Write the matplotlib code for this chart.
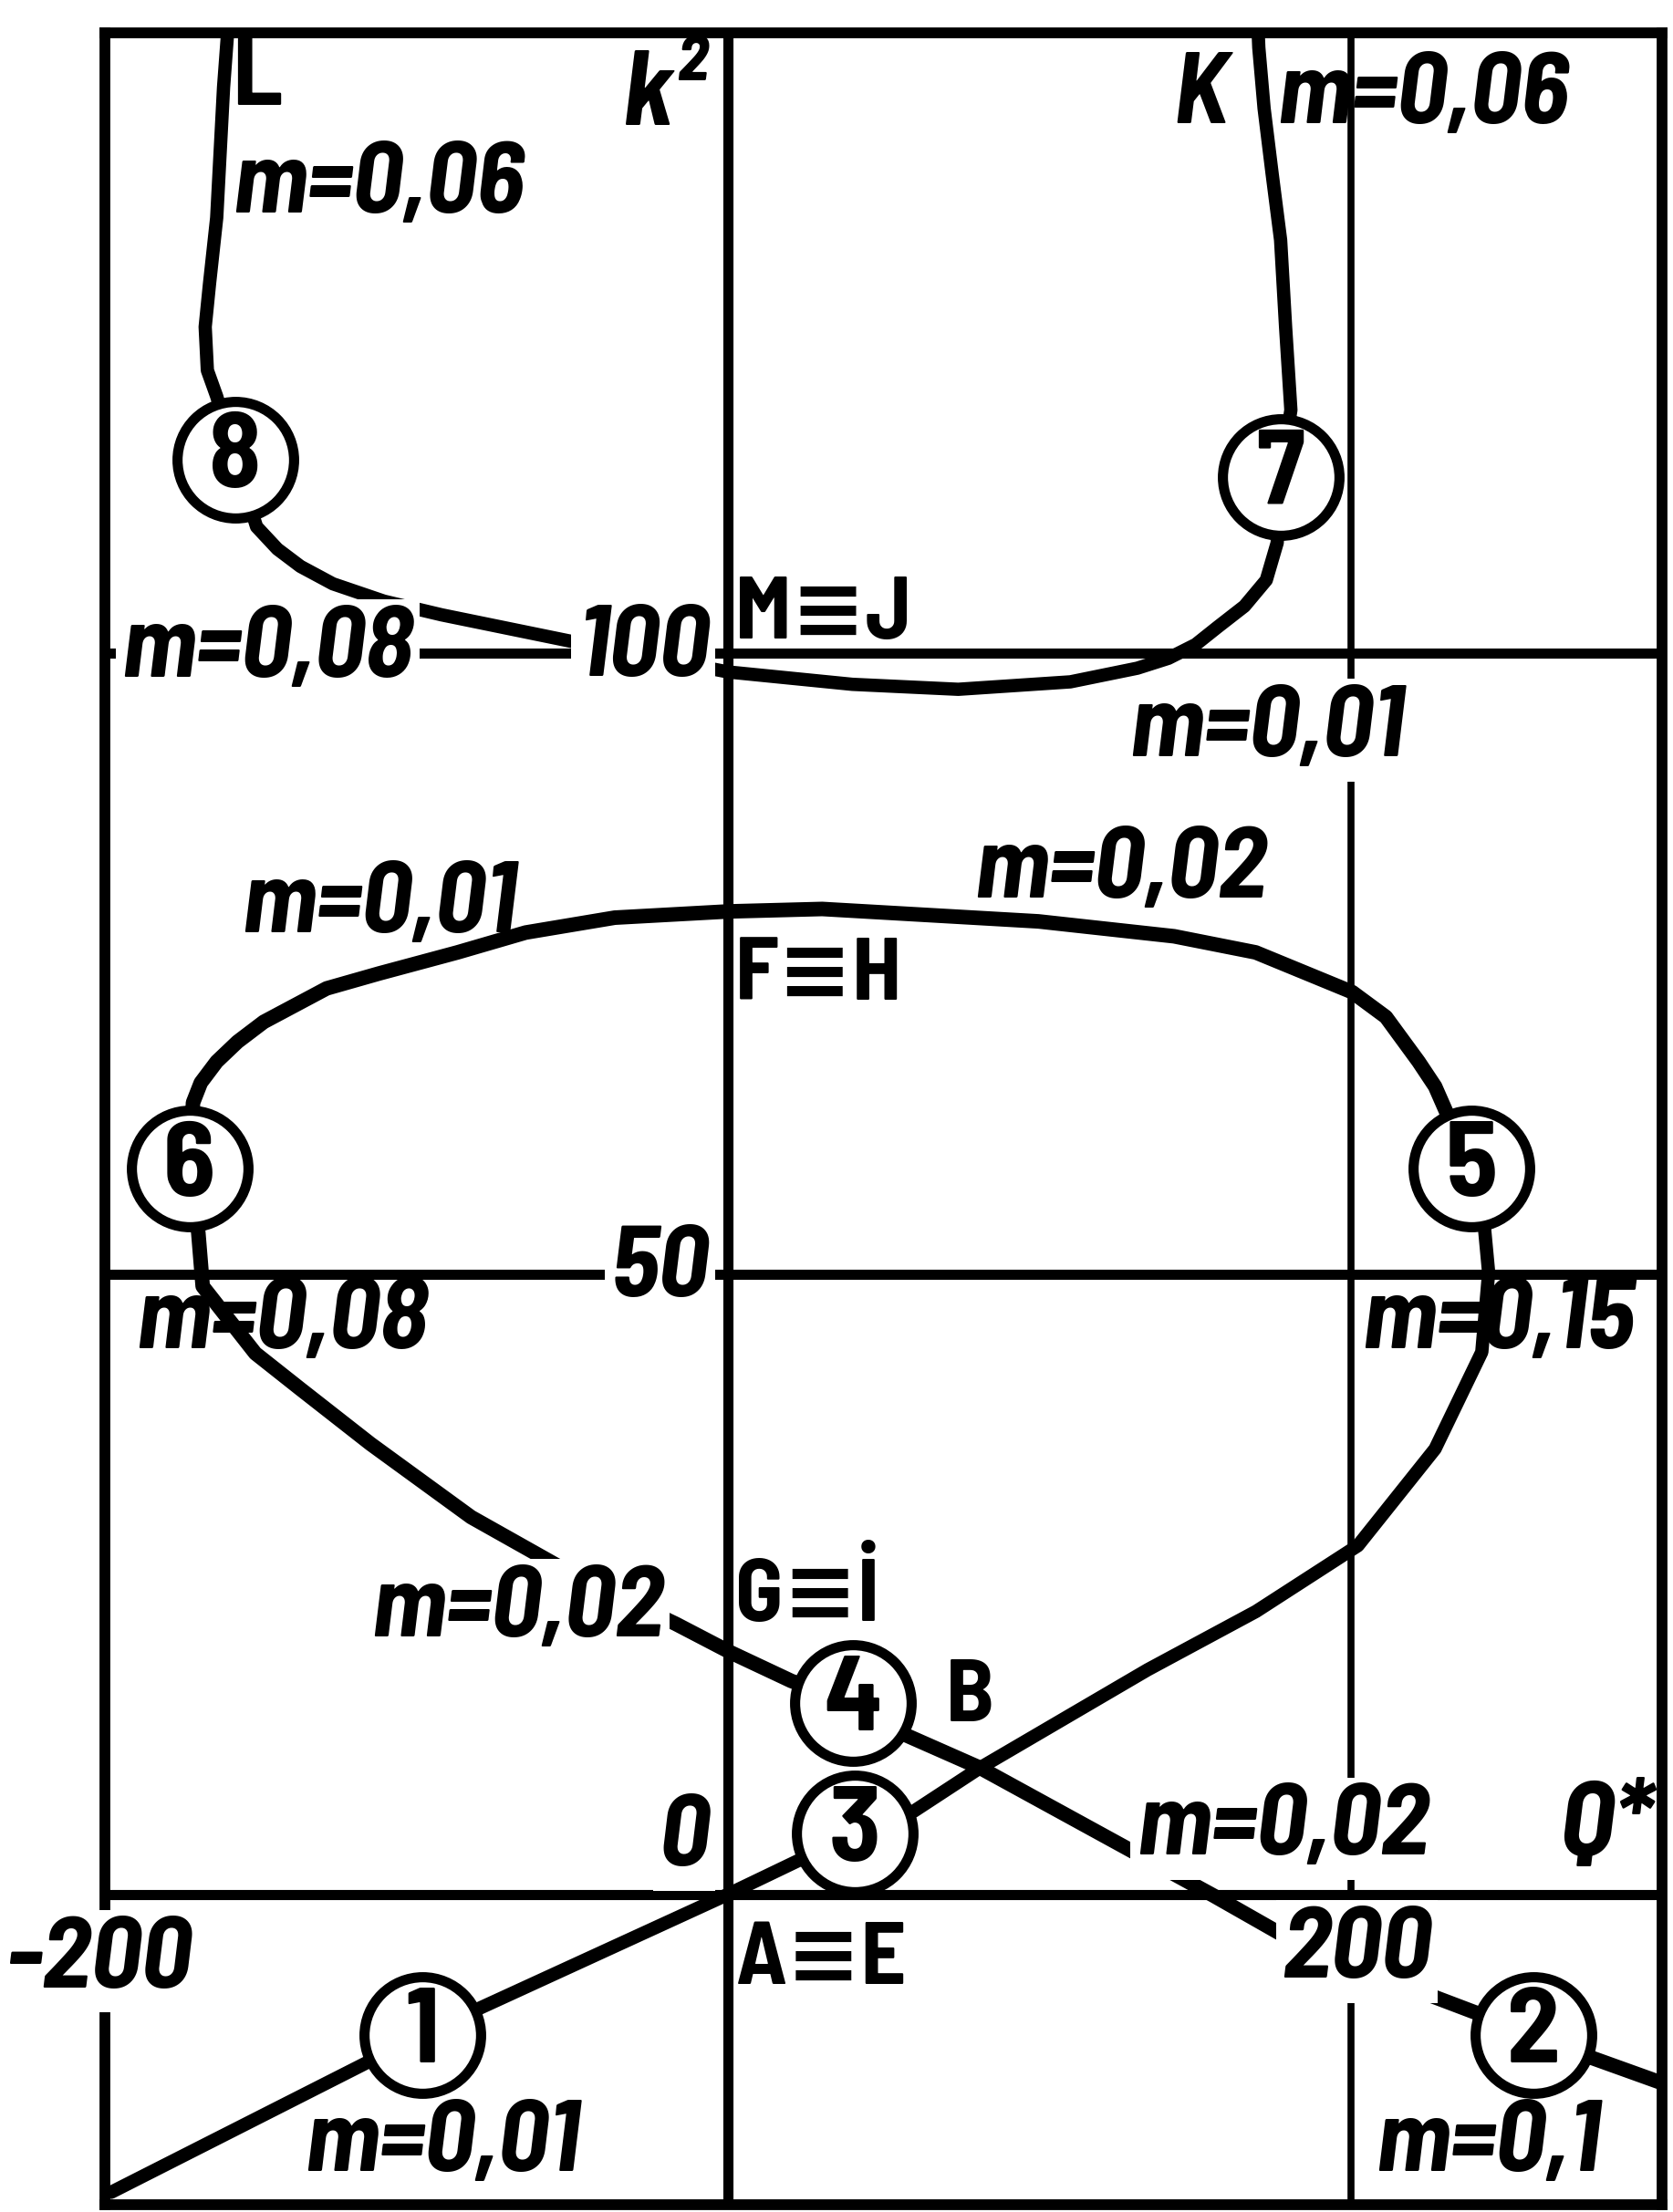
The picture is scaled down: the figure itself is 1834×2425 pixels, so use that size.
import matplotlib
matplotlib.use("Agg")
import matplotlib.pyplot as plt
from matplotlib import font_manager

# Q* along x, k^2 along y
# branch 1 -> A=E -> 3 -> B -> 5
branch_q = [-198, -98.2, 0, 40.7, 59.7, 81, 134.8, 169.6, 202.3, 227.1, 242.1, 244.3, 243, 238.9]
branch_k = [-24, -11.3, 0, 4.9, 6.7, 10.2, 18.1, 22.8, 28.1, 35.9, 43.7, 50.1, 53.6, 58.5]

# loop 5 -> F=H -> 6 -> G=I -> 4 -> B -> 2
loop_q = [238.9, 230.6, 227.1, 221.8, 211.3, 200.5, 169.5, 143.3, 99.7, 30.3, 0, -36.3,
          -64.9, -86.8, -112, -128.8, -149, -157.4, -164.1, -169.2, -171.7, -172.9,
          -170, -168.6, -151.7, -137.1, -114.7, -82.4, -48.4, -16.7,
          0.9, 20.4, 40.3, 56.6, 81, 131.2, 156, 177, 222, 258.8, 277.8, 300]
loop_k = [58.5, 63.1, 65.1, 67.1, 70.7, 72.7, 75.9, 77.2, 78.4, 79.4, 79.2, 78.7,
          77.5, 75.9, 74.2, 73.0, 70.3, 68.7, 67.1, 65.4, 63.8, 58.5,
          53.3, 49.0, 43.6, 40.7, 36.3, 30.4, 25.6, 21.8,
          19.5, 17.2, 15.4, 12.9, 10.2, 3.3, -0.1, -3.1, -7.8, -11.3, -13.2, -15.2]

# upper branch L -> 8 -> M=J -> 7 -> K
top_q = [-160.6, -161.9, -164.1, -166.4, -167.8, -167.1, -164.1, -158.1, -151.3, -144.6,
         -137.2, -126.8, -110.4, -91.9, -47.1, 0, 40, 74, 110, 131.5, 141.5, 150.2,
         157.2, 165.9, 172.9, 176.4, 177.4, 180.8, 179.1, 177.5, 174.8, 172.2, 170.5, 170.3]
top_k = [150, 145.6, 135.1, 129.8, 126.3, 122.8, 120.7, 115.6, 110.2, 108.4,
         107.0, 105.6, 104.2, 103.1, 100.8, 98.5, 97.5, 97.1, 97.7, 98.8, 99.6, 100.7,
         102.1, 103.8, 105.9, 108.9, 114.2, 119.6, 126.3, 133.3, 138.6, 143.9, 148.8, 150]

# numbered states
node_q = [-98.2, 258.8, 40.7, 40.3, 238.9, -172.9, 177.4, -158.1]
node_k = [-11.3, -11.3, 4.9, 15.4, 58.5, 58.5, 114.2, 115.6]
node_lbl = ["1", "2", "3", "4", "5", "6", "7", "8"]

# m values written along the traces: text, Q, k^2, masks what lies under it
m_labels = [
    ("m=0,06", -159, 137.6, False),
    ("m=0,06", 176.5, 144.8, False),
    ("m=0,08", -194.6, 100.2, True),
    ("m=0,01", 129, 93.8, True),
    ("m=0,02", 79.2, 82.4, False),
    ("m=0,01", -156.1, 79.6, False),
    ("m=0,08", -190, 46.1, False),
    ("m=0,15", 203.6, 46.1, False),
    ("m=0,02", -114.5, 22.9, True),
    ("m=0,02", 131.2, 5.3, True),
    ("m=0,01", -135.7, -20.2, False),
    ("m=0,1", 208, -20.2, False),
]
# coincident points, left edge at Q, centre at k^2
pair_labels = [("M\u2261J", 2.3, 103.0), ("F\u2261H", 2.3, 73.9),
               ("G\u2261\u0130", 2.3, 24.0), ("A\u2261E", 2.3, -5.4), ("B", 70.1, 15.8)]
# scale numbers: text, Q, k^2, horizontal alignment
scale_labels = [("100", -6, 100.3, "right"), ("50", -6, 50.3, "right"),
                ("0", -6, 4.4, "right"), ("-200", -232, -5.4, "left"),
                ("200", 202, -4.6, "center")]


def narrow_family():
    """First condensed sans with an italic face that is installed."""
    fonts = font_manager.fontManager.ttflist
    for name in ["Barlow Semi Condensed", "Barlow Condensed", "Roboto Condensed",
                 "Archivo Narrow", "PT Sans Narrow", "Liberation Sans Narrow"]:
        if any(f.name == name and f.style == "italic" for f in fonts):
            return name
    return "Liberation Sans"


FAM = [narrow_family(), "DejaVu Sans"]
INK = "black"
MASK = dict(boxstyle="square,pad=0.06", facecolor="white", edgecolor="none")

fig = plt.figure(figsize=(18.34, 24.25), dpi=100)
ax = fig.add_axes([0.0627, 0.0033, 0.9308, 0.9819])
ax.set_xlim(-200, 300)
ax.set_ylim(-25, 150)
ax.set_xticks([])
ax.set_yticks([])
for s in ax.spines.values():
    s.set_linewidth(8.5)
    s.set_color(INK)

for k in (0, 50, 100):
    ax.axhline(k, color=INK, lw=8, zorder=1)
ax.axvline(0, color=INK, lw=8, zorder=1)
ax.axvline(200, color=INK, lw=5.5, zorder=1)

line_kw = dict(color=INK, solid_capstyle="round", solid_joinstyle="round", zorder=2)
ax.plot(branch_q, branch_k, lw=10.5, **line_kw)
ax.plot(loop_q, loop_k, lw=11.5, **line_kw)
ax.plot(top_q, top_k, lw=10.5, **line_kw)

ax.plot(node_q, node_k, ls="none", marker="o", ms=92, mfc="white", mec=INK, mew=8,
        zorder=4, clip_on=False)
for q, k, s in zip(node_q, node_k, node_lbl):
    ax.text(q, k, s, ha="center", va="center", family=FAM, fontsize=84,
            fontweight="bold", zorder=5)

for s, q, k, mask in m_labels:
    ax.text(q, k, s, ha="left", va="center", family=FAM, fontsize=80, style="italic",
            fontweight="bold", zorder=3, bbox=MASK if mask else None)

for s, q, k in pair_labels:
    ax.text(q, k, s, ha="left", va="center", family=FAM, fontsize=70,
            fontweight="bold", zorder=3)

for s, q, k, ha in scale_labels:
    ax.text(q, k, s, ha=ha, va="center", family=FAM, fontsize=80, style="italic",
            fontweight="bold", zorder=3, bbox=MASK, clip_on=False)

# axis names and branch ends
ax.text(-34, 144.8, "k\u00b2", ha="left", va="center", family=FAM, fontsize=84,
        style="italic", fontweight="bold", zorder=3)
ax.text(267, 5.3, "Q*", ha="left", va="center", family=FAM, fontsize=84,
        style="italic", fontweight="bold", zorder=3)
ax.text(160.6, 144.8, "K", ha="right", va="center", family=FAM, fontsize=80,
        style="italic", fontweight="bold", zorder=3)
ax.text(-159.3, 146.3, "L", ha="left", va="center", family=FAM, fontsize=80,
        fontweight="bold", zorder=3)

fig.savefig("out.png", dpi=100, facecolor="white")
